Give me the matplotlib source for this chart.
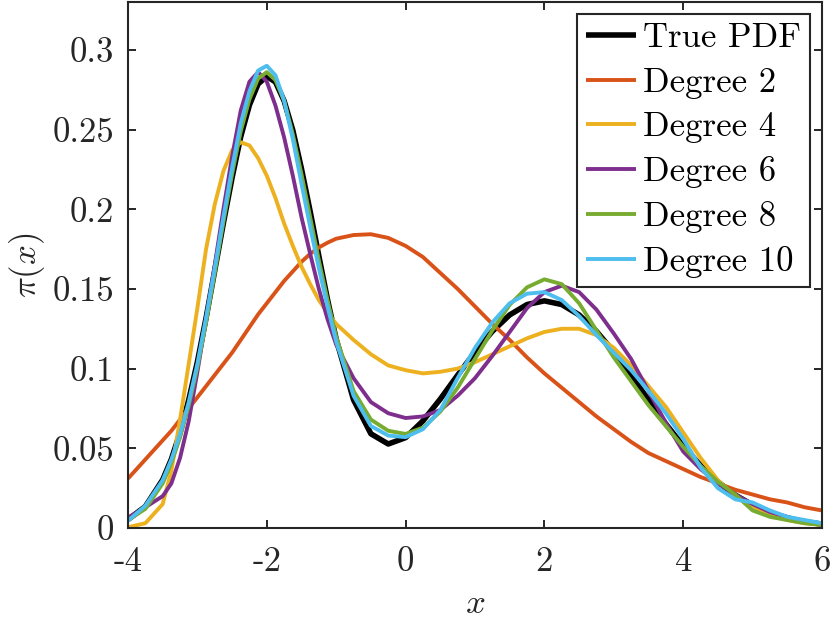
import matplotlib
matplotlib.use("Agg")
import matplotlib.pyplot as plt

x = [-4.0, -3.75, -3.5, -3.375, -3.25, -3.125, -3.0, -2.875, -2.75, -2.625,
     -2.5, -2.375, -2.25, -2.125, -2.0, -1.875, -1.75, -1.625, -1.5, -1.375,
     -1.25, -1.125, -1.0, -0.75, -0.5, -0.25, 0.0, 0.25, 0.5, 0.75,
     1.0, 1.25, 1.5, 1.75, 2.0, 2.25, 2.5, 2.75, 3.0, 3.25,
     3.5, 3.75, 4.0, 4.25, 4.5, 4.75, 5.0, 5.25, 5.5, 5.75, 6.0]

true_pdf = [0.0053, 0.0135, 0.0303, 0.0432, 0.0598, 0.0803, 0.1043, 0.1318, 0.1615, 0.1914,
            0.2198, 0.2456, 0.2654, 0.2786, 0.2834, 0.2798, 0.2679, 0.2495, 0.2253, 0.1986,
            0.1706, 0.1433, 0.1184, 0.0804, 0.0591, 0.0527, 0.0567, 0.0672, 0.0809, 0.0959,
            0.1104, 0.1234, 0.1337, 0.1402, 0.1425, 0.1402, 0.1337, 0.1234, 0.1104, 0.0957,
            0.0803, 0.0653, 0.0514, 0.0392, 0.0289, 0.0207, 0.0144, 0.0096, 0.0063, 0.0039, 0.0024]

deg2 = [0.031, 0.043, 0.055, 0.061, 0.068, 0.075, 0.082, 0.089, 0.096, 0.103,
        0.110, 0.118, 0.126, 0.134, 0.141, 0.148, 0.155, 0.161, 0.167, 0.172,
        0.176, 0.179, 0.1815, 0.1838, 0.1843, 0.1820, 0.177, 0.170, 0.160, 0.150,
        0.139, 0.128, 0.118, 0.107, 0.097, 0.088, 0.079, 0.070, 0.062, 0.054,
        0.047, 0.042, 0.037, 0.032, 0.028, 0.024, 0.021, 0.018, 0.016, 0.013, 0.011]

deg4 = [0.0005, 0.003, 0.015, 0.036, 0.068, 0.103, 0.138, 0.175, 0.203, 0.224,
        0.237, 0.242, 0.240, 0.232, 0.221, 0.207, 0.191, 0.177, 0.164, 0.153,
        0.143, 0.135, 0.128, 0.118, 0.109, 0.102, 0.099, 0.097, 0.098, 0.100,
        0.104, 0.109, 0.114, 0.119, 0.123, 0.125, 0.125, 0.121, 0.113, 0.102,
        0.089, 0.076, 0.060, 0.044, 0.030, 0.020, 0.013, 0.008, 0.005, 0.003, 0.002]

deg6 = [0.0065, 0.013, 0.020, 0.028, 0.044, 0.067, 0.098, 0.131, 0.165, 0.200,
        0.233, 0.262, 0.280, 0.286, 0.280, 0.265, 0.245, 0.221, 0.195, 0.172,
        0.150, 0.131, 0.115, 0.094, 0.079, 0.072, 0.069, 0.070, 0.074, 0.083,
        0.094, 0.108, 0.123, 0.138, 0.148, 0.152, 0.148, 0.137, 0.122, 0.106,
        0.086, 0.066, 0.048, 0.037, 0.028, 0.021, 0.015, 0.010, 0.007, 0.004, 0.003]

deg8 = [0.005, 0.012, 0.028, 0.041, 0.057, 0.077, 0.101, 0.129, 0.160, 0.192,
        0.222, 0.249, 0.269, 0.282, 0.286, 0.281, 0.268, 0.247, 0.222, 0.195,
        0.168, 0.143, 0.120, 0.086, 0.068, 0.061, 0.059, 0.063, 0.073, 0.088,
        0.106, 0.124, 0.140, 0.151, 0.156, 0.153, 0.141, 0.124, 0.107, 0.092,
        0.077, 0.064, 0.051, 0.039, 0.029, 0.021, 0.011, 0.007, 0.005, 0.003, 0.002]

deg10 = [0.0045, 0.014, 0.030, 0.043, 0.059, 0.079, 0.103, 0.132, 0.163, 0.195,
         0.226, 0.254, 0.274, 0.287, 0.290, 0.284, 0.268, 0.244, 0.216, 0.189,
         0.163, 0.139, 0.117, 0.083, 0.064, 0.058, 0.057, 0.062, 0.074, 0.094,
         0.113, 0.129, 0.141, 0.147, 0.148, 0.143, 0.133, 0.121, 0.110, 0.099,
         0.086, 0.072, 0.056, 0.038, 0.025, 0.018, 0.016, 0.011, 0.007, 0.005, 0.003]

labels = ["True PDF", "Degree 2", "Degree 4", "Degree 6", "Degree 8", "Degree 10"]
colors = ["#000000", "#D95319", "#EDB120", "#7E2F8E", "#77AC30", "#4DBEEE"]
series = [true_pdf, deg2, deg4, deg6, deg8, deg10]

xticks = [-4, -2, 0, 2, 4, 6]
xticklabels = ["-4", "-2", "0", "2", "4", "6"]
yticks = [0, 0.05, 0.1, 0.15, 0.2, 0.25, 0.3]
yticklabels = ["0", "0.05", "0.1", "0.15", "0.2", "0.25", "0.3"]

plt.rcParams["mathtext.fontset"] = "cm"
plt.rcParams["font.family"] = "cmr10"
plt.rcParams["axes.unicode_minus"] = False

FS = 25
fig = plt.figure(figsize=(8.3, 6.22), dpi=100)
ax = fig.add_axes([128/830, 1-528/622, (822-128)/830, (528-2)/622])

for i, (y, lab, c) in enumerate(zip(series, labels, colors)):
    ax.plot(x, y, color=c, lw=4.0 if i == 0 else 2.8, label=lab,
            solid_joinstyle="round", solid_capstyle="butt")

ax.set_xlim(-4, 6)
ax.set_ylim(0, 0.33)
ax.set_xticks(xticks)
ax.set_xticklabels(xticklabels)
ax.set_yticks(yticks)
ax.set_yticklabels(yticklabels)
ax.tick_params(axis="x", pad=13)
ax.tick_params(axis="y", pad=10)
ax.tick_params(direction="in", length=6, width=1.4, top=True, right=True,
               labelsize=FS, colors="#262626")
for s in ax.spines.values():
    s.set_linewidth(1.5)
    s.set_color("#262626")

ax.set_xlabel(r"$x$", fontsize=FS, labelpad=8, color="#262626")
ax.set_ylabel(r"$\pi(x)$", fontsize=FS, labelpad=4, color="#262626")

leg = ax.legend(loc="upper right", fontsize=FS, frameon=True, fancybox=False,
                edgecolor="#262626", framealpha=1, handlelength=1.45,
                handletextpad=0.2, labelspacing=0.37, borderpad=0.25,
                borderaxespad=0.35)
leg.get_frame().set_linewidth(1.5)

fig.savefig("out.png", dpi=100)
